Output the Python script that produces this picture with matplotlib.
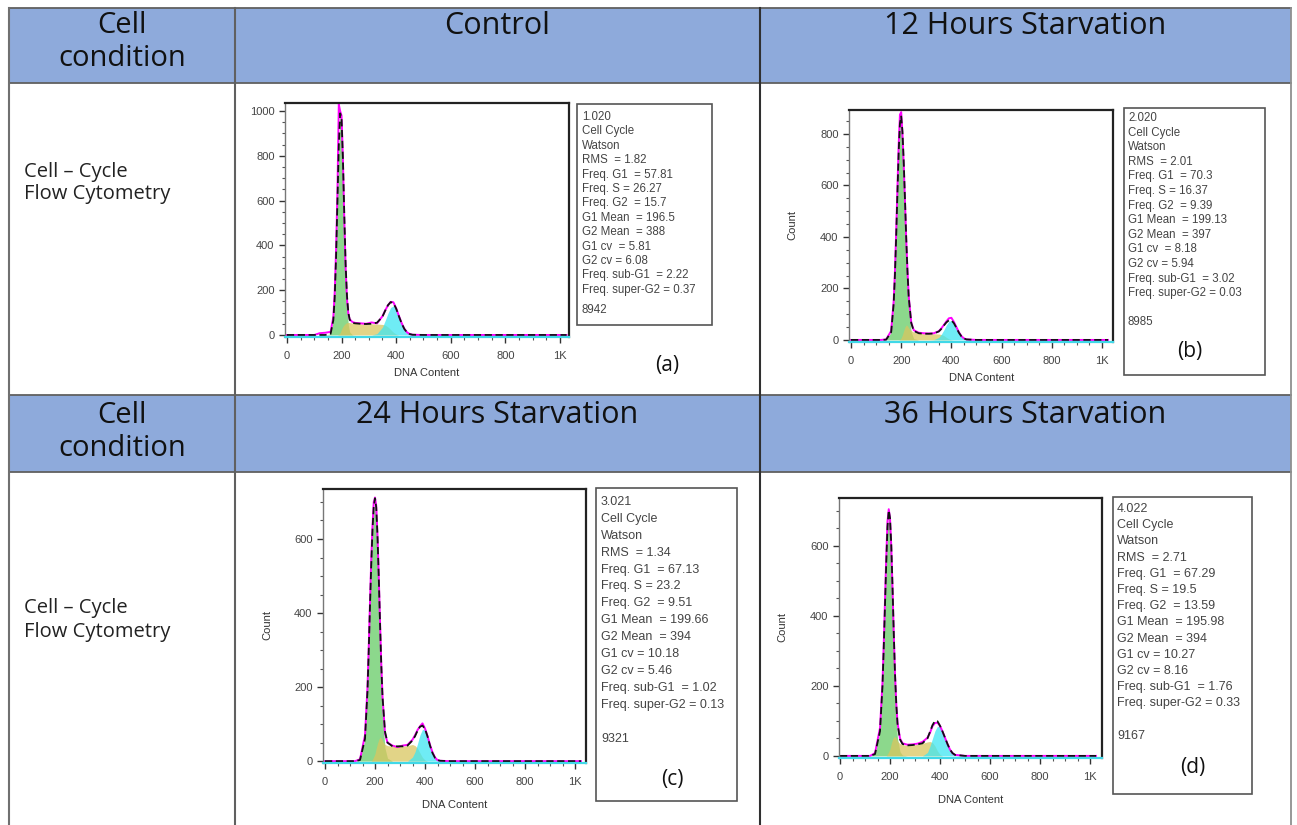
import matplotlib
matplotlib.use("Agg")
import numpy as np
import matplotlib.pyplot as plt
from matplotlib.patches import Rectangle
from matplotlib.ticker import MultipleLocator, FixedLocator

# DNA content grid shared by all four histograms
dna = [0, 100, 120, 140, 160, 170, 175, 180, 185, 190, 195, 200, 205, 210, 215,
       220, 225, 230, 240, 250, 270, 290, 310, 330, 350, 360, 370, 380, 390, 400,
       410, 420, 430, 440, 450, 460, 500, 1024]

# (a) Control
g1_a = [0, 0, 0, 0, 5, 66, 165, 345, 595, 840, 980, 945, 755, 500, 265,
        120, 44, 13, 1, 0, 0, 0, 0, 0, 0, 0, 0, 0, 0, 0,
        0, 0, 0, 0, 0, 0, 0, 0]
s_a = [0, 0, 0, 0, 0, 0, 0, 0, 0, 3, 10, 25, 38, 46, 52,
       55, 56, 55, 53, 52, 50, 49, 50, 49, 47, 44, 36, 24, 12, 4,
       0, 0, 0, 0, 0, 0, 0, 0]
g2_a = [0, 0, 0, 0, 0, 0, 0, 0, 0, 0, 0, 0, 0, 0, 0,
        0, 0, 0, 0, 0, 0, 0, 0, 6, 35, 65, 97, 123, 130, 114,
        84, 52, 27, 11, 4, 1, 0, 0]
data_a = [0, 0, 8, 10, 14, 80, 190, 380, 640, 1030, 1000, 980, 790, 520, 300,
          160, 95, 70, 58, 54, 52, 50, 56, 52, 84, 110, 132, 148, 146, 120,
          86, 54, 28, 12, 4, 1, 0, 0]

# (b) 12 hours starvation
g1_b = [0, 0, 0, 1, 30, 140, 250, 400, 570, 730, 840, 860, 790, 660, 500,
        340, 210, 120, 30, 5, 0, 0, 0, 0, 0, 0, 0, 0, 0, 0,
        0, 0, 0, 0, 0, 0, 0, 0]
s_b = [0, 0, 0, 0, 0, 0, 0, 0, 0, 0, 2, 8, 20, 36, 50,
       58, 55, 46, 36, 30, 26, 24, 24, 24, 23, 21, 17, 10, 4, 1,
       0, 0, 0, 0, 0, 0, 0, 0]
g2_b = [0, 0, 0, 0, 0, 0, 0, 0, 0, 0, 0, 0, 0, 0, 0,
        0, 0, 0, 0, 0, 0, 0, 0, 1, 10, 22, 39, 58, 72, 75,
        65, 47, 28, 14, 6, 2, 0, 0]
data_b = [0, 0, 0, 2, 35, 150, 265, 420, 590, 760, 875, 885, 800, 680, 540,
          390, 270, 170, 68, 38, 28, 26, 25, 26, 34, 45, 58, 72, 84, 86,
          70, 50, 30, 15, 6, 2, 0, 0]

# (c) 24 hours starvation
g1_c = [0, 0, 0, 3, 60, 190, 300, 420, 530, 620, 675, 690, 650, 560, 440,
        310, 200, 120, 35, 8, 0, 0, 0, 0, 0, 0, 0, 0, 0, 0,
        0, 0, 0, 0, 0, 0, 0, 0]
s_c = [0, 0, 0, 0, 0, 0, 0, 0, 0, 5, 12, 20, 35, 48, 58,
       65, 62, 55, 45, 42, 40, 40, 40, 42, 45, 42, 35, 22, 10, 3,
       0, 0, 0, 0, 0, 0, 0, 0]
g2_c = [0, 0, 0, 0, 0, 0, 0, 0, 0, 0, 0, 0, 0, 0, 0,
        0, 0, 0, 0, 0, 0, 0, 0, 0, 11, 25, 47, 71, 86, 84,
        67, 42, 22, 9, 3, 1, 0, 0]
data_c = [0, 0, 0, 5, 70, 200, 310, 430, 545, 635, 700, 712, 690, 610, 500,
          380, 265, 175, 75, 50, 42, 38, 42, 44, 58, 70, 84, 94, 102, 88,
          68, 44, 24, 10, 3, 1, 0, 0]

# (d) 36 hours starvation
g1_d = [0, 0, 0, 5, 70, 200, 310, 430, 550, 650, 690, 660, 570, 440, 300,
        180, 100, 50, 12, 2, 0, 0, 0, 0, 0, 0, 0, 0, 0, 0,
        0, 0, 0, 0, 0, 0, 0, 0]
s_d = [0, 0, 0, 0, 0, 0, 0, 0, 0, 5, 12, 20, 35, 47, 54,
       55, 50, 42, 35, 32, 30, 31, 33, 36, 40, 41, 38, 28, 14, 4,
       0, 0, 0, 0, 0, 0, 0, 0]
g2_d = [0, 0, 0, 0, 0, 0, 0, 0, 0, 0, 0, 0, 0, 0, 0,
        0, 0, 0, 0, 0, 0, 0, 0, 0, 10, 28, 50, 72, 85, 82,
        70, 52, 34, 18, 8, 3, 0, 0]
data_d = [0, 0, 0, 8, 80, 210, 320, 445, 570, 670, 705, 680, 600, 480, 350,
          235, 150, 95, 50, 36, 32, 33, 35, 40, 52, 66, 85, 94, 95, 86,
          70, 52, 34, 18, 8, 3, 0, 0]

stats_a = ["1.020", "Cell Cycle", "Watson", "RMS  = 1.82", "Freq. G1  = 57.81",
           "Freq. S = 26.27", "Freq. G2  = 15.7", "G1 Mean  = 196.5",
           "G2 Mean  = 388", "G1 cv  = 5.81", "G2 cv = 6.08",
           "Freq. sub-G1  = 2.22", "Freq. super-G2 = 0.37"]
stats_b = ["2.020", "Cell Cycle", "Watson", "RMS  = 2.01", "Freq. G1  = 70.3",
           "Freq. S = 16.37", "Freq. G2  = 9.39", "G1 Mean  = 199.13",
           "G2 Mean  = 397", "G1 cv  = 8.18", "G2 cv = 5.94",
           "Freq. sub-G1  = 3.02", "Freq. super-G2 = 0.03"]
stats_c = ["3.021", "Cell Cycle", "Watson", "RMS  = 1.34", "Freq. G1  = 67.13",
           "Freq. S = 23.2", "Freq. G2  = 9.51", "G1 Mean  = 199.66",
           "G2 Mean  = 394", "G1 cv = 10.18", "G2 cv = 5.46",
           "Freq. sub-G1  = 1.02", "Freq. super-G2 = 0.13"]
stats_d = ["4.022", "Cell Cycle", "Watson", "RMS  = 2.71", "Freq. G1  = 67.29",
           "Freq. S = 19.5", "Freq. G2  = 13.59", "G1 Mean  = 195.98",
           "G2 Mean  = 394", "G1 cv = 10.27", "G2 cv = 8.16",
           "Freq. sub-G1  = 1.76", "Freq. super-G2 = 0.33"]
events = ["8942", "8985", "9321", "9167"]
titles = ["Control", "12 Hours Starvation", "24 Hours Starvation", "36 Hours Starvation"]
letters = ["(a)", "(b)", "(c)", "(d)"]

W, H = 1297, 825
fig = plt.figure(figsize=(W / 100, H / 100), dpi=100)
fig.patch.set_facecolor("white")

bg = fig.add_axes([0, 0, 1, 1])
bg.set_xlim(0, W)
bg.set_ylim(H, 0)
bg.axis("off")

HEAD = "#8eaadb"
hfont = "Open Sans"

# table: header rows and grid lines
for top, bot in [(8, 83), (395, 472)]:
    bg.add_patch(Rectangle((9, top), 1282, bot - top, facecolor=HEAD, edgecolor="none"))
for y in [8, 83, 395, 472]:
    bg.plot([9, 1291], [y, y], color="#606060", lw=1.3)
bg.plot([9, 9], [8, H], color="#707070", lw=1.5)
bg.plot([1291, 1291], [8, H], color="#909090", lw=1.3)
bg.plot([235, 235], [8, H], color="#606060", lw=1.5)
bg.plot([760, 760], [8, H], color="#303030", lw=1.5)

for yc in [42, 432]:
    bg.text(122, yc, "Cell\ncondition", ha="center", va="center", fontsize=21,
            family=hfont, color="#111111", linespacing=1.2)
for i, t in enumerate(titles):
    xc = 497 if i % 2 == 0 else 1025
    yc = 26 if i < 2 else 415
    bg.text(xc, yc, t, ha="center", va="center", fontsize=22, family=hfont, color="#111111")
for yc in [183, 620]:
    bg.text(24, yc, "Cell \u2013 Cycle\nFlow Cytometry", ha="left", va="center",
            fontsize=14.5, family=hfont, color="#222222", linespacing=1.2)

panels = [
    dict(g1=g1_a, s=s_a, g2=g2_a, data=data_a, frame=(285, 103, 569, 337),
         xlim=(-7, 1033), ylim=(-9, 1036), ymax=1000, count=None,
         dna_lbl=(427, 373), box=(577, 104, 712, 325), first=117, step=14.4,
         ev_gap=1.4, tx=582, fs=8.3, letter=(667, 366)),
    dict(g1=g1_b, s=s_b, g2=g2_b, data=data_b, frame=(849, 110, 1113, 342),
         xlim=(-8, 1044), ylim=(-8, 893), ymax=800, count=(792, 225),
         dna_lbl=(982, 378), box=(1124, 108, 1265, 375), first=118, step=14.6,
         ev_gap=2.0, tx=1128, fs=8.3, letter=(1190, 352)),
    dict(g1=g1_c, s=s_c, g2=g2_c, data=data_c, frame=(323, 489, 586, 763),
         xlim=(-8, 1044), ylim=(-5, 735), ymax=600, count=(267, 625),
         dna_lbl=(455, 805), box=(596, 488, 737, 801), first=502, step=16.9,
         ev_gap=2.0, tx=601, fs=9, letter=(672, 779)),
    dict(g1=g1_d, s=s_d, g2=g2_d, data=data_d, frame=(839, 498, 1102, 758),
         xlim=(-4, 1048), ylim=(-6, 737), ymax=600, count=(782, 627),
         dna_lbl=(971, 800), box=(1113, 497, 1252, 794), first=509, step=16.2,
         ev_gap=2.0, tx=1117, fs=9, letter=(1193, 767)),
]
stats = [stats_a, stats_b, stats_c, stats_d]

x = np.array(dna)
for i, p in enumerate(panels):
    l, t, r, b = p["frame"]
    ax = fig.add_axes([l / W, 1 - b / H, (r - l) / W, (b - t) / H])
    g1 = np.array(p["g1"])
    s = np.array(p["s"])
    g2 = np.array(p["g2"])
    model = g1 + s + g2

    ax.fill_between(x, 0, g1, color="#6fcf6f", alpha=0.8, lw=0)
    ax.fill_between(x, 0, s, color="#d9c65f", alpha=0.75, lw=0)
    ax.fill_between(x, 0, g2, color="#3fe6f2", alpha=0.75, lw=0)
    ax.plot(x, p["data"], color="#ff00ff", lw=1.4)
    ax.plot(x, model, color="#111111", lw=1.3, dashes=(4, 2))

    ax.set_xlim(*p["xlim"])
    ax.set_ylim(*p["ylim"])
    ax.xaxis.set_major_locator(FixedLocator([0, 200, 400, 600, 800, 1000]))
    ax.set_xticklabels(["0", "200", "400", "600", "800", "1K"])
    ax.xaxis.set_minor_locator(MultipleLocator(50))
    ax.yaxis.set_major_locator(FixedLocator(list(range(0, p["ymax"] + 1, 200))))
    ax.yaxis.set_minor_locator(MultipleLocator(50))
    ax.tick_params(axis="both", which="major", labelsize=8, labelcolor="#444444",
                   length=4, width=1, color="#333333")
    ax.tick_params(axis="x", which="major", pad=6)
    ax.tick_params(axis="both", which="minor", length=2.5, width=0.8, color="#555555")
    for lab in ax.get_xticklabels() + ax.get_yticklabels():
        lab.set_family("Liberation Sans")
    for side in ["top", "right"]:
        ax.spines[side].set_color("#222222")
        ax.spines[side].set_linewidth(1.6)
    ax.spines["left"].set_color("#777777")
    ax.spines["left"].set_linewidth(1.0)
    ax.spines["bottom"].set_color("#40d8e8")
    ax.spines["bottom"].set_linewidth(1.6)

    bg.text(*p["dna_lbl"], "DNA Content", ha="center", va="center", fontsize=8,
            family="Liberation Sans", color="#333333")
    if p["count"]:
        bg.text(*p["count"], "Count", ha="center", va="center", rotation=90,
                fontsize=8, family="Liberation Sans", color="#333333")

    bl, bt, br, bb = p["box"]
    bg.add_patch(Rectangle((bl, bt), br - bl, bb - bt, facecolor="white",
                           edgecolor="#555555", lw=1.2))
    for k, line in enumerate(stats[i]):
        bg.text(p["tx"], p["first"] + k * p["step"], line, ha="left", va="center",
                fontsize=p["fs"], family="Liberation Sans", color="#444444")
    yev = p["first"] + (len(stats[i]) - 1 + p["ev_gap"]) * p["step"]
    bg.text(p["tx"], yev, events[i], ha="left", va="center", fontsize=p["fs"],
            family="Liberation Sans", color="#444444")
    bg.text(*p["letter"], letters[i], ha="center", va="center", fontsize=15,
            family=hfont, color="#111111")

fig.savefig("out.png", dpi=100)
